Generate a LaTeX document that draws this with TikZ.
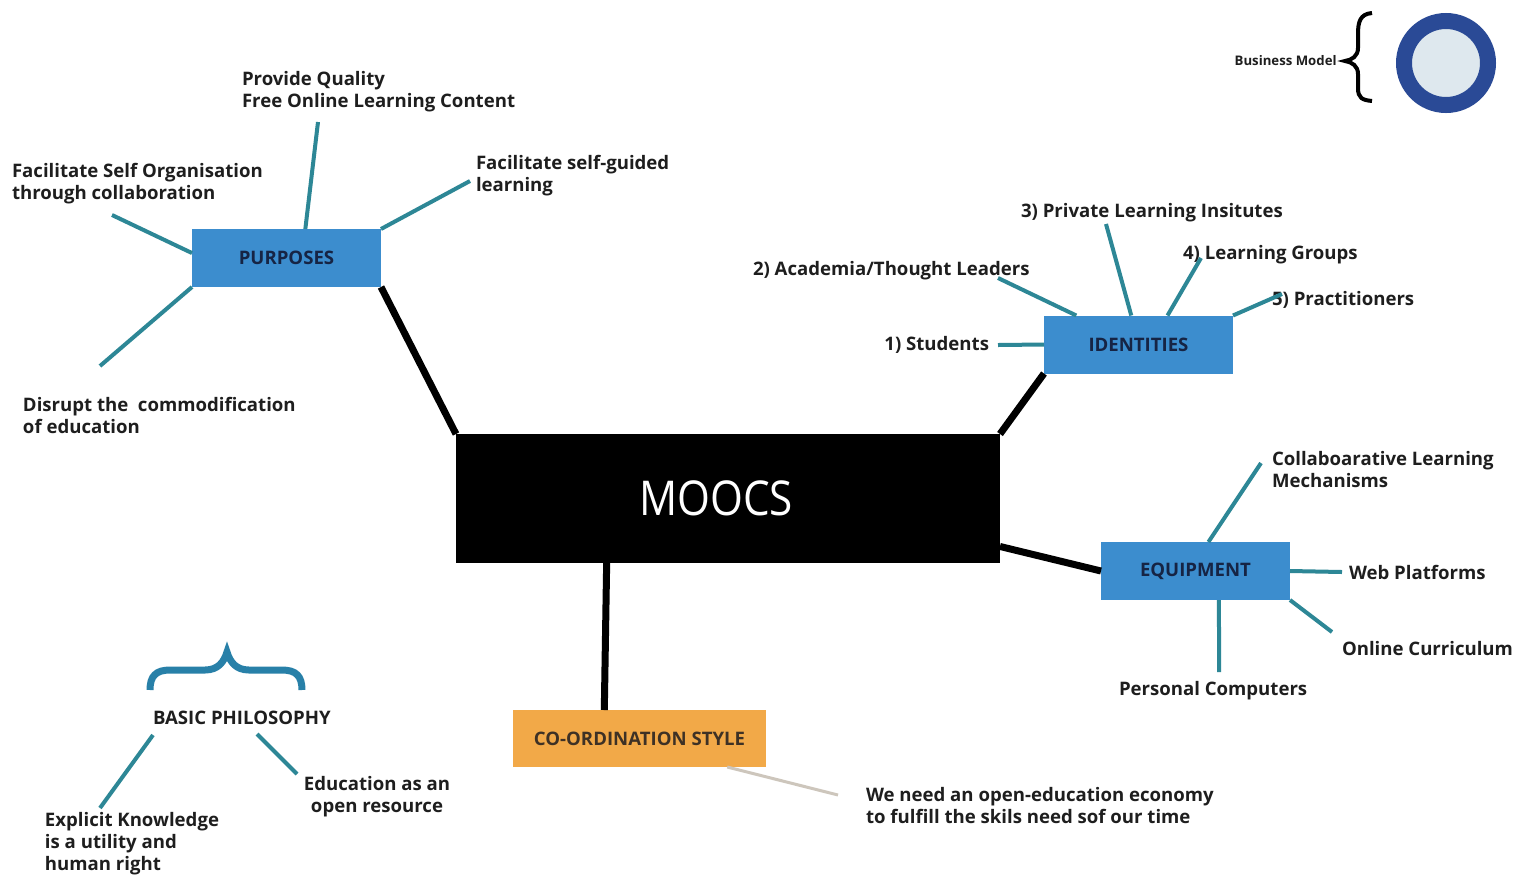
\documentclass[tikz,border=0pt]{standalone}
\usepackage{fontspec}
\setmainfont{Open Sans}
\definecolor{boxblue}{RGB}{60,141,206}
\definecolor{labelnavy}{RGB}{22,36,68}
\definecolor{twigteal}{RGB}{45,135,150}
\definecolor{coordorange}{RGB}{242,169,72}
\definecolor{inkdark}{RGB}{30,30,30}
\definecolor{ringblue}{RGB}{42,74,150}
\definecolor{ringfill}{RGB}{222,232,238}
\definecolor{bracecol}{RGB}{40,128,168}
\definecolor{fadegrey}{RGB}{205,198,188}
\newcommand{\boxlabel}[1]{\raisebox{-1.2pt}{#1}}
\begin{document}
\begin{tikzpicture}[x=0.5pt,y=-0.5pt,
  hub/.style={fill=black, minimum width=272pt, minimum height=64.5pt,
    inner sep=0, outer sep=0, text=white, font=\fontsize{24}{24}\selectfont},
  topic/.style={fill=boxblue, minimum width=94.5pt, minimum height=29pt,
    inner sep=0, outer sep=0, text=labelnavy, font=\bfseries\fontsize{9.3}{11}\selectfont},
  leaf/.style={inner sep=0, outer sep=0, text=inkdark, align=left,
    font=\bfseries\fontsize{9.3}{11}\selectfont},
  trunk/.style={draw=black, line width=3.5pt},
  twig/.style={draw=twigteal, line width=2pt},
  faint/.style={draw=fadegrey, line width=1.5pt}]

% canvas
\fill[white] (0,0) rectangle (1517,874);
\useasboundingbox (0,0) rectangle (1517,874);

% central hub and topic boxes
\node[hub] (moocs) at (728,498.5) {\scalebox{0.88}[1]{MOOCS}\kern12pt};
\node[topic] (pur) at (286.5,258) {\boxlabel{PURPOSES}};
\node[topic] (ide) at (1138.5,344.5) {\boxlabel{IDENTITIES}};
\node[topic] (equ) at (1195.5,571) {\boxlabel{EQUIPMENT}};
\node[topic, fill=coordorange, text=inkdark!80!brown, minimum width=126.5pt,
  minimum height=28.5pt] (coo) at (639.5,738.5) {\boxlabel{CO-ORDINATION STYLE}};

% trunks from the hub
\draw[trunk] (pur.south east) -- (moocs.north west);
\draw[trunk] (ide.south west) -- (moocs.north east);
\draw[trunk] (moocs.-10.7) -- (equ.west);
\draw[trunk] (moocs.-152.5) -- (coo.141.2);

% purposes
\node[leaf, anchor=north west] (t-pq) at (242,71) {Provide Quality\\Free Online Learning Content};
\node[leaf, anchor=north west] (t-sg) at (476,155) {Facilitate self-guided\\learning};
\node[leaf, anchor=north west] (t-so) at (12,163) {Facilitate Self Organisation\\through collaboration};
\node[leaf, anchor=north west] (t-dc) at (23,397) {Disrupt the\ \ commodification\\of education};
\coordinate (pq) at (318,122);
\coordinate (sg) at (470,181);
\coordinate (so) at (112,215);
\coordinate (dc) at (100,366);
\draw[twig] (pur.57.5) -- (pq);
\draw[twig] (pur.north east) -- (sg);
\draw[twig] (pur.177.6) -- (so);
\draw[twig] (pur.south west) -- (dc);

% identities
\node[leaf, anchor=north west] (t-pl) at (1021,203) {3) Private Learning Insitutes};
\node[leaf, anchor=north west] (t-ac) at (753,261) {2) Academia/Thought Leaders};
\node[leaf, anchor=north west] (t-lg) at (1183,245) {4) Learning Groups};
\node[leaf, anchor=north west] (t-pr) at (1272,291) {5) Practitioners};
\node[leaf, anchor=north east] (t-st) at (989,336) {1) Students};
\coordinate (st) at (998,345);
\coordinate (ac) at (998,278);
\coordinate (pl) at (1106,224);
\coordinate (lg) at (1201,258);
\coordinate (pr) at (1282,294);
\draw[twig] (ide.west) -- (st);
\draw[twig] (ide.155.8) -- (ac);
\draw[twig] (ide.104.7) -- (pl);
\draw[twig] (ide.45) -- (lg);
\draw[twig] (ide.north east) -- (pr);

% equipment
\node[leaf, anchor=north west] (t-cl) at (1272,451) {Collaboarative Learning\\Mechanisms};
\node[leaf, anchor=north west] (t-wp) at (1349,565) {Web Platforms};
\node[leaf, anchor=north west] (t-oc) at (1342,641) {Online Curriculum};
\node[leaf, anchor=north west] (t-pc) at (1119,681) {Personal Computers};
\coordinate (cl) at (1261,463);
\coordinate (wp) at (1342,572);
\coordinate (oc) at (1332,632);
\coordinate (pc) at (1219,672);
\draw[twig] (equ.66.7) -- (cl);
\draw[twig] (equ.east) -- (wp);
\draw[twig] (equ.south east) -- (oc);
\draw[twig] (equ.-51) -- (pc);

% co-ordination style
\node[leaf, anchor=north west] (t-oe) at (866,787) {We need an open-education economy\\to fulfill the skils need sof our time};
\coordinate (oe) at (838,795);
\draw[faint] (coo.-18) -- (oe);

% basic philosophy
\node[leaf, anchor=north west] (t-bp) at (153,711) {BASIC PHILOSOPHY};
\node[leaf, anchor=north, align=center] (t-eo) at (377,776) {Education as an\\open resource};
\node[leaf, anchor=north west] (t-ek) at (45,812) {Explicit Knowledge\\is a utility and\\human right};
\coordinate (bpl) at (153,735);
\coordinate (ek) at (100,808);
\coordinate (bpr) at (257,734);
\coordinate (eo) at (297,774);
\draw[twig] (bpl) -- (ek);
\draw[twig] (bpr) -- (eo);
\draw[draw=bracecol, line width=3.5pt]
  (150,690) .. controls (150,676) and (156,670) .. (170,670) -- (205,670)
  .. controls (218,670) and (224,662) .. (227,652)
  .. controls (230,662) and (236,670) .. (249,670) -- (282,670)
  .. controls (296,670) and (302,676) .. (302,690);

% business model key
\node[inner sep=0, text=inkdark, font=\bfseries\fontsize{6.6}{7}\selectfont,
  anchor=east] (t-bm) at (1337,61) {Business Model};
\draw[black, line width=2pt]
  (1372,13) .. controls (1360,14) and (1358,22) .. (1358,34) -- (1358,48)
  .. controls (1358,56) and (1352,60) .. (1345,61)
  .. controls (1352,62) and (1358,66) .. (1358,74) -- (1358,88)
  .. controls (1358,98) and (1362,100) .. (1372,101);
\draw[draw=ringblue, fill=ringfill, line width=8pt] (1446,63) circle[radius=42];

\end{tikzpicture}
\end{document}
